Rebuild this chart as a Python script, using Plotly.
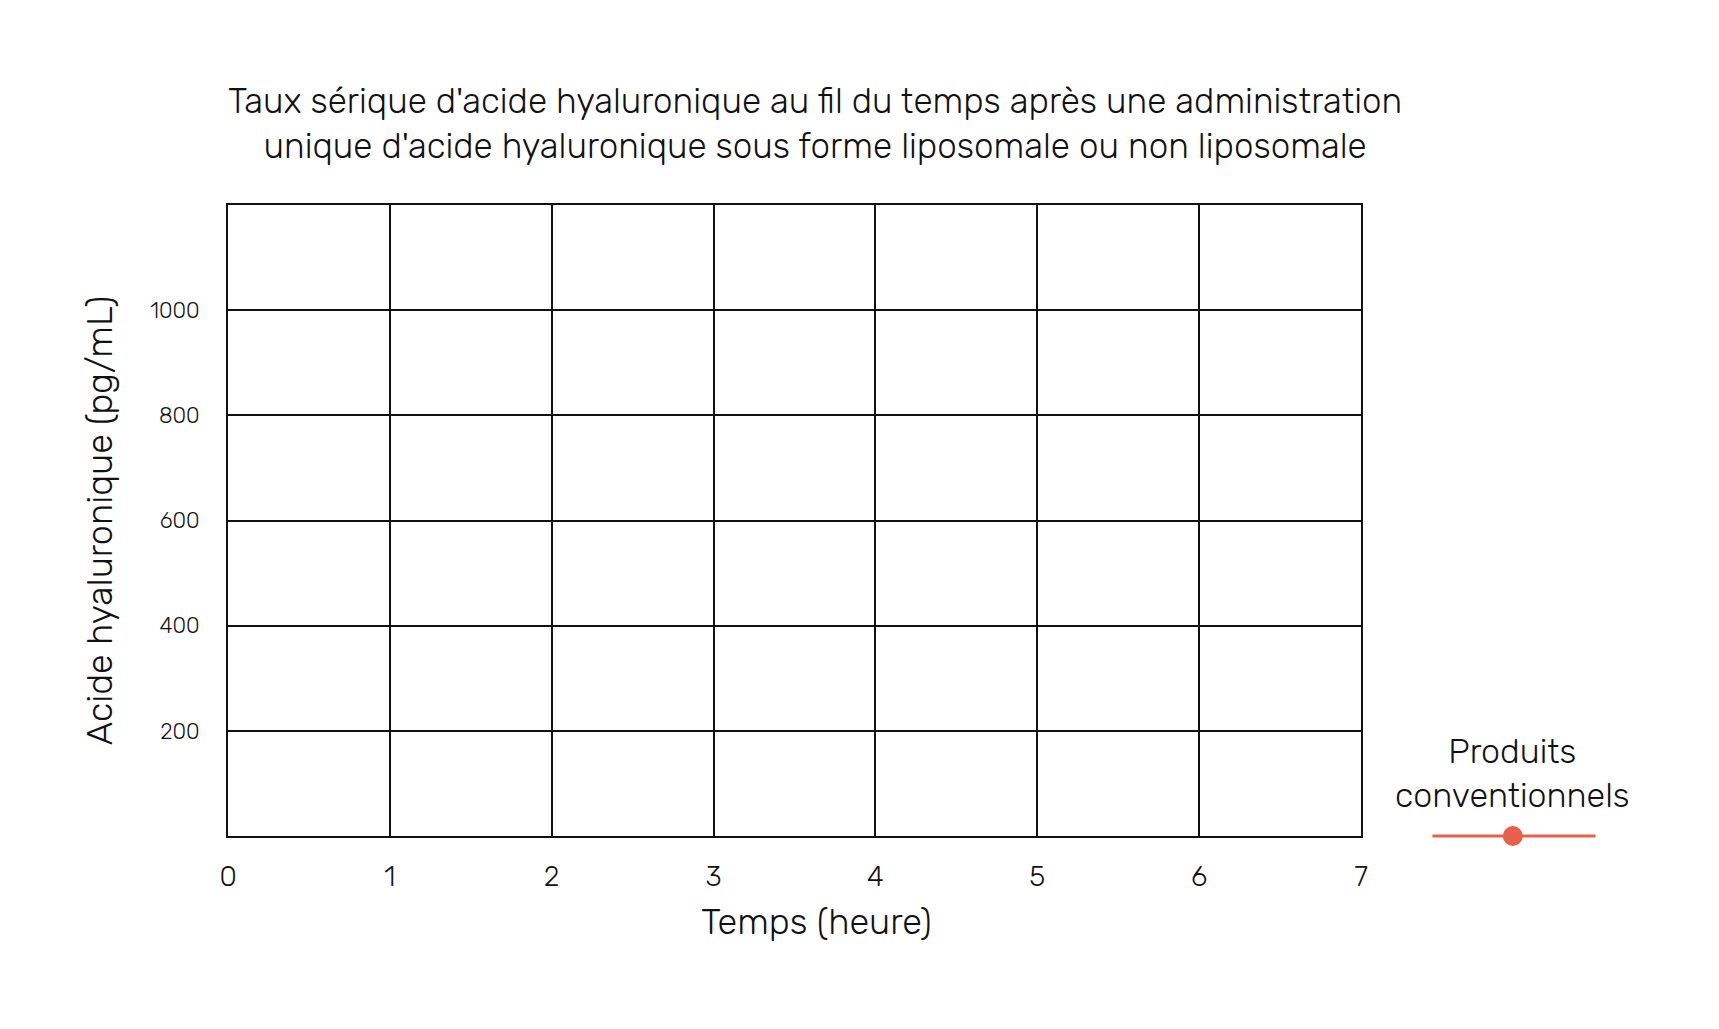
import plotly.graph_objects as go

# chart data (the reference chart is an empty template: no points plotted yet)
temps_heure = []
acide_conventionnel = []

x_ticks = [0, 1, 2, 3, 4, 5, 6, 7]
y_ticks = [200, 400, 600, 800, 1000]

serie_nom = "Produits conventionnels"
serie_couleur = "#E8604A"

FONT = "Rubik, Roboto, Inter, sans-serif"

fig = go.Figure()
fig.add_trace(go.Scatter(
    x=temps_heure,
    y=acide_conventionnel,
    mode="lines+markers",
    name=serie_nom,
    line=dict(color=serie_couleur, width=3),
    marker=dict(color=serie_couleur, size=20),
    showlegend=False,
))

fig.update_layout(
    width=1719,
    height=1029,
    paper_bgcolor="white",
    plot_bgcolor="white",
    margin=dict(l=220, r=366, t=197, b=201),
    font=dict(family=FONT, color="#111111", weight=300),
    title=dict(
        text="Taux sérique d'acide hyaluronique au fil du temps après une administration<br>"
             "unique d'acide hyaluronique sous forme liposomale ou non liposomale",
        x=0.4695, xanchor="center", xref="container",
        y=0.898, yanchor="top", yref="container",
        font=dict(size=35, family=FONT, weight=300, color="#111111"),
    ),
    xaxis=dict(
        range=[0, 7],
        tickvals=x_ticks,
        showgrid=True, gridcolor="#111111", gridwidth=2,
        showline=True, linecolor="#111111", linewidth=2, mirror=True,
        zeroline=False, ticks="",
        tickfont=dict(size=28, family=FONT, weight=300),
        ticklabelstandoff=14,
    ),
    yaxis=dict(
        range=[0, 1200],
        tickvals=y_ticks,
        showgrid=True, gridcolor="#111111", gridwidth=2,
        showline=True, linecolor="#111111", linewidth=2, mirror=True,
        zeroline=False, ticks="",
        tickfont=dict(size=22, family=FONT, weight=300),
        ticklabelstandoff=22,
        title=dict(text="Acide hyaluronique (pg/mL)", standoff=27,
                   font=dict(size=36, family=FONT, weight=300)),
    ),
    annotations=[
        dict(text="Temps (heure)", x=0.519, xref="paper", y=0, yref="paper",
             xanchor="center", yanchor="top", yshift=-62, showarrow=False,
             font=dict(size=36, family=FONT, weight=300, color="#111111")),
        dict(text="Produits<br>conventionnels", x=1.134, xref="paper", y=0, yref="paper",
             xanchor="center", yanchor="bottom", yshift=18, showarrow=False,
             font=dict(size=34, family=FONT, weight=300, color="#111111")),
    ],
    shapes=[
        # hand-built legend key: line with a centred dot
        dict(type="line", xref="paper", yref="paper", x0=1.063, x1=1.207, y0=0, y1=0,
             line=dict(color=serie_couleur, width=3)),
        dict(type="circle", xref="paper", yref="paper",
             xsizemode="pixel", ysizemode="pixel", xanchor=1.134, yanchor=0,
             x0=-10, x1=10, y0=-10, y1=10,
             fillcolor=serie_couleur, line=dict(color=serie_couleur, width=0)),
    ],
)

fig.write_html("out.html")
